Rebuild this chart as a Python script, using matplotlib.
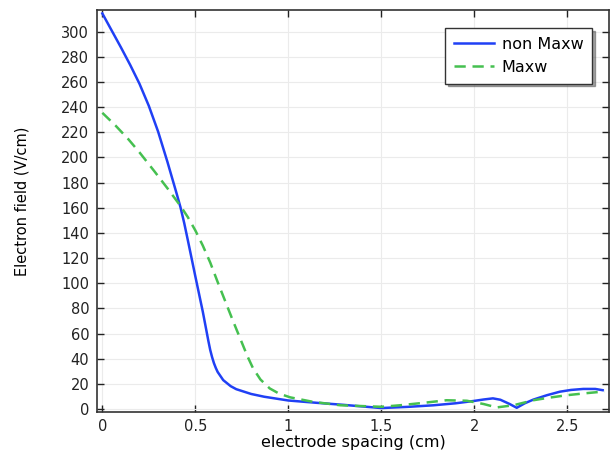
import numpy as np
import matplotlib
matplotlib.use('Agg')
import matplotlib.pyplot as plt

plt.rcParams['font.family'] = ['DejaVu Sans']

# 数据
x_non = [0, 0.05, 0.1, 0.15, 0.2, 0.25, 0.3, 0.35, 0.4, 0.42, 0.44, 0.46,
         0.5, 0.52, 0.54, 0.56, 0.57, 0.58, 0.59, 0.6, 0.61, 0.62, 0.65, 0.69,
         0.72, 0.8, 0.87, 1.0, 1.15, 1.3, 1.5, 1.65, 1.78, 1.9, 1.995, 2.05,
         2.1, 2.14, 2.19, 2.228, 2.27, 2.317, 2.39, 2.46, 2.52, 2.586, 2.65, 2.69]
y_non = [314.5, 301, 287.5, 273.5, 258.5, 241, 220.5, 196.5, 171, 160.5, 148, 134,
         105.5, 91.5, 77.5, 62, 54.2, 47, 41.3, 36.5, 32.7, 29.5, 23, 18.2,
         15.8, 12, 9.8, 6.8, 5, 3.3, 0.8, 1.8, 3, 4.6, 6.4, 7.6,
         8.5, 7.4, 4, 1, 4.5, 7.5, 11, 13.8, 15.2, 16, 16, 15]

x_max = [0, 0.07, 0.14, 0.2, 0.28, 0.35, 0.42, 0.46, 0.5, 0.54, 0.58, 0.62,
         0.66, 0.7, 0.74, 0.78, 0.81, 0.85, 0.9, 0.95, 1.01, 1.13, 1.28, 1.5,
         1.6, 1.73, 1.85, 1.96, 2.05, 2.12, 2.21, 2.317, 2.4, 2.497, 2.6, 2.7]
y_max = [235.5, 225.5, 214.5, 204, 189, 175.5, 161.5, 152.5, 142, 130, 116.5, 101,
         86, 71, 56.5, 42, 32.5, 23.5, 16.4, 12.3, 9.3, 5.8, 3, 1.8,
         3, 5, 7, 6.6, 4, 1.3, 3, 7, 9, 11, 12.6, 14]

xticks = [0, 0.5, 1, 1.5, 2, 2.5]
xticklabels = ['0', '0.5', '1', '1.5', '2', '2.5']
yticks = list(range(0, 301, 20))

fig = plt.figure(figsize=(6.14, 4.54), dpi=100)
ax = fig.add_axes([97.5 / 614, 1 - 411.7 / 454, (609 - 97.5) / 614, (411.7 - 10.3) / 454])

ax.plot(x_non, y_non, color='#2040f5', linewidth=1.8, label='non Maxw')
ax.plot(x_max, y_max, color='#45c050', linewidth=1.8, linestyle=(0, (4.5, 2.7)), label='Maxw')

ax.set_xlim(-0.026, 2.724)
ax.set_ylim(-2.1, 317)
ax.set_xticks(xticks)
ax.set_xticklabels(xticklabels)
ax.set_yticks(yticks)
ax.tick_params(direction='in', top=True, right=True, labelsize=10.5, length=5,
               width=1, colors='#222222', pad=6)
ax.tick_params(axis='x', pad=5)
ax.grid(True, color='#ebebeb', linewidth=0.8)
for s in ax.spines.values():
    s.set_color('#333333')
    s.set_linewidth(1.2)

ax.set_xlabel('electrode spacing (cm)', fontsize=11.5, va='center')
ax.xaxis.set_label_coords(0.5, (411.7 - 442.5) / 401.4)
ax.set_ylabel('Electron field (V/cm)', fontsize=10.5, va='center')
ax.yaxis.set_label_coords((21.7 - 97.5) / 511.5, (411.7 - 201) / 401.4)

leg = ax.legend(loc='upper right', bbox_to_anchor=(0.967, 0.956), borderaxespad=0,
                fontsize=11.5, fancybox=False, shadow=True, framealpha=1,
                edgecolor='#333333', handlelength=2.5, handletextpad=0.5,
                borderpad=0.55, labelspacing=0.5)
leg.get_frame().set_linewidth(1.0)

fig.savefig('out.png', dpi=100)
plt.close()
